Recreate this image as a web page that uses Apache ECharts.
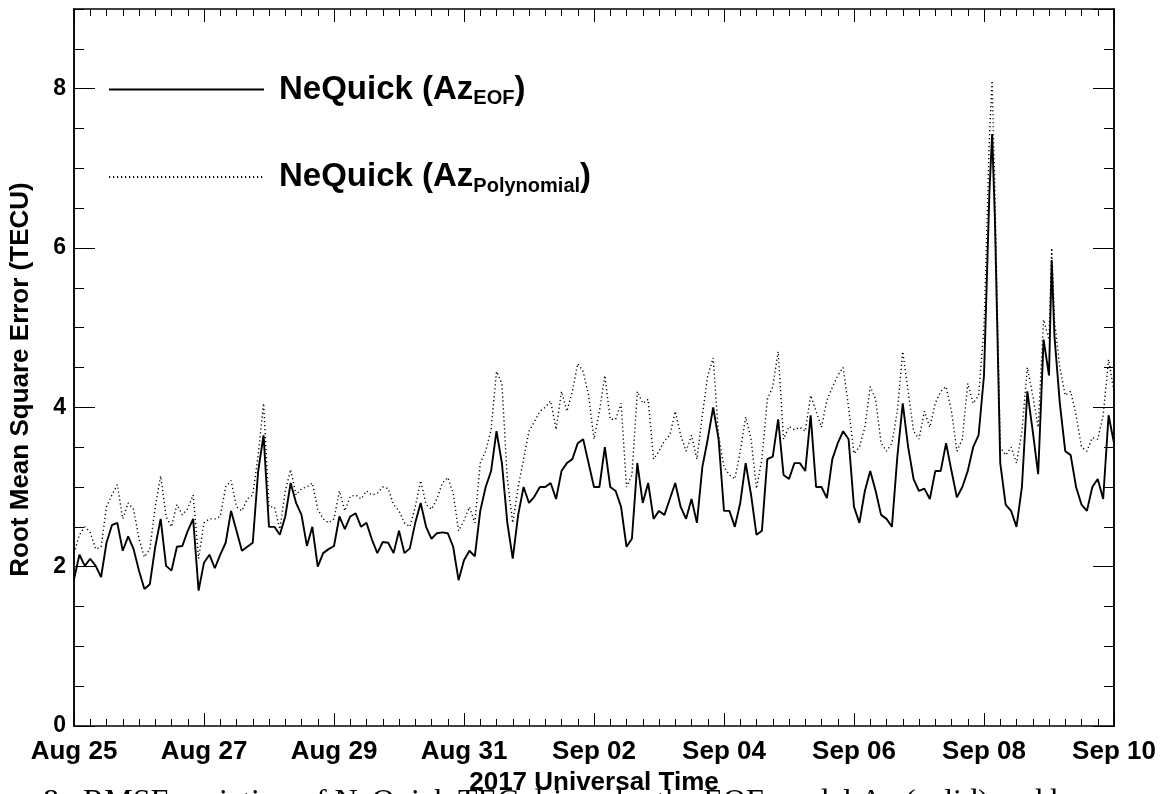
<!DOCTYPE html>
<html>
<head>
<meta charset="utf-8">
<script src="https://cdn.jsdelivr.net/npm/echarts@6/dist/echarts.min.js"></script>
<style>
  html, body { margin: 0; padding: 0; background: #fff; }
  #chart { width: 1164px; height: 794px; }
</style>
</head>
<body>
<div id="chart"></div>
<script>
// Hours since 2017-08-25 00:00 UT (2-hourly, with extra samples at the storm peaks)
const hours = [
  0, 2, 4, 6, 8, 10, 12, 14, 16, 18, 20, 22,
  24, 26, 28, 30, 32, 34, 36, 38, 40, 42, 44, 46,
  48, 50, 52, 54, 56, 58, 60, 62, 64, 66, 68, 70,
  72, 74, 76, 78, 80, 82, 84, 86, 88, 90, 92, 94,
  96, 98, 100, 102, 104, 106, 108, 110, 112, 114, 116, 118,
  120, 122, 124, 126, 128, 130, 132, 134, 136, 138, 140, 142,
  144, 146, 148, 150, 152, 154, 156, 158, 160, 162, 164, 166,
  168, 170, 172, 174, 176, 178, 180, 182, 184, 186, 188, 190,
  192, 194, 196, 198, 200, 202, 204, 206, 208, 210, 212, 214,
  216, 218, 220, 222, 224, 226, 228, 230, 232, 234, 236, 238,
  240, 242, 244, 246, 248, 250, 252, 254, 256, 258, 260, 262,
  264, 266, 268, 270, 272, 274, 276, 278, 280, 282, 284, 286,
  288, 290, 292, 294, 296, 298, 300, 302, 304, 306, 308, 310,
  312, 314, 316, 318, 320, 322, 324, 326, 328, 330, 332, 334,
  336, 338, 339, 340, 342, 344, 346, 348, 350, 352, 354, 356, 358,
  360, 361, 362, 364, 366, 368, 370, 372, 374, 376, 378, 380, 382, 384
];

// RMSE (TECU) of NeQuick driven by Az from the EOF model
const rmseEof = [
  1.84, 2.15, 2.01, 2.10, 2.01, 1.87, 2.30, 2.52, 2.55, 2.20, 2.38, 2.22,
  1.95, 1.72, 1.78, 2.25, 2.60, 2.01, 1.95, 2.25, 2.26, 2.45, 2.60, 1.70,
  2.05, 2.15, 1.98, 2.15, 2.30, 2.70, 2.45, 2.20, 2.25, 2.30, 3.20, 3.65,
  2.50, 2.50, 2.40, 2.63, 3.05, 2.80, 2.65, 2.26, 2.50, 2.00, 2.17, 2.22,
  2.26, 2.63, 2.47, 2.63, 2.67, 2.50, 2.55, 2.34, 2.17, 2.31, 2.30, 2.17,
  2.45, 2.17, 2.23, 2.55, 2.80, 2.50, 2.35, 2.42, 2.43, 2.42, 2.25, 1.83,
  2.08, 2.20, 2.13, 2.70, 3.00, 3.20, 3.70, 3.30, 2.55, 2.10, 2.65, 3.00,
  2.80, 2.88, 3.00, 3.00, 3.05, 2.85, 3.20, 3.30, 3.35, 3.55, 3.60, 3.30,
  3.00, 3.00, 3.50, 3.00, 2.95, 2.75, 2.25, 2.35, 3.30, 2.80, 3.05, 2.60,
  2.70, 2.65, 2.85, 3.05, 2.75, 2.60, 2.85, 2.55, 3.25, 3.60, 4.00, 3.60,
  2.70, 2.70, 2.50, 2.80, 3.30, 2.90, 2.40, 2.45, 3.35, 3.38, 3.85, 3.15,
  3.10, 3.30, 3.30, 3.20, 3.90, 3.00, 3.00, 2.86, 3.35, 3.55, 3.70, 3.60,
  2.75, 2.55, 2.95, 3.20, 2.95, 2.65, 2.60, 2.50, 3.38, 4.05, 3.50, 3.10,
  2.95, 2.98, 2.85, 3.20, 3.20, 3.55, 3.20, 2.87, 3.00, 3.20, 3.50, 3.65,
  4.40, 6.70, 7.43, 6.40, 3.30, 2.78, 2.70, 2.50, 3.00, 4.20, 3.70, 3.16, 4.85,
  4.40, 5.85, 4.90, 4.05, 3.45, 3.40, 3.00, 2.78, 2.70, 3.00, 3.10, 2.85, 3.90, 3.55
];

// RMSE (TECU) of NeQuick driven by Az from the polynomial model
const rmsePoly = [
  2.17, 2.40, 2.50, 2.43, 2.22, 2.25, 2.75, 2.90, 3.03, 2.60, 2.80, 2.72,
  2.35, 2.12, 2.22, 2.75, 3.14, 2.63, 2.50, 2.78, 2.65, 2.73, 2.90, 2.10,
  2.55, 2.60, 2.60, 2.63, 3.00, 3.08, 2.75, 2.70, 2.85, 2.90, 3.40, 4.05,
  2.75, 2.75, 2.47, 2.95, 3.22, 2.90, 2.98, 3.00, 3.05, 2.72, 2.60, 2.55,
  2.60, 2.95, 2.70, 2.88, 2.90, 2.85, 2.95, 2.90, 2.92, 3.00, 2.98, 2.78,
  2.70, 2.55, 2.50, 2.75, 3.08, 2.78, 2.72, 2.85, 3.05, 3.12, 2.92, 2.45,
  2.58, 2.75, 2.55, 3.30, 3.45, 3.72, 4.45, 4.30, 3.10, 2.55, 3.00, 3.35,
  3.70, 3.82, 3.95, 4.00, 4.08, 3.72, 4.20, 3.95, 4.20, 4.55, 4.45, 4.15,
  3.60, 3.95, 4.40, 3.85, 3.85, 4.05, 3.00, 3.15, 4.20, 4.05, 4.10, 3.35,
  3.45, 3.58, 3.65, 3.95, 3.65, 3.45, 3.65, 3.35, 3.90, 4.40, 4.62, 3.65,
  3.25, 3.15, 3.10, 3.45, 3.88, 3.60, 2.98, 3.35, 4.10, 4.26, 4.70, 3.60,
  3.76, 3.72, 3.75, 3.70, 4.15, 3.95, 3.75, 4.09, 4.25, 4.40, 4.50, 4.00,
  3.42, 3.50, 3.75, 4.26, 4.10, 3.55, 3.45, 3.55, 3.95, 4.70, 4.20, 3.70,
  3.60, 3.95, 3.75, 4.05, 4.20, 4.26, 3.95, 3.45, 3.60, 4.30, 4.05, 4.15,
  5.00, 7.40, 8.10, 6.75, 3.50, 3.40, 3.50, 3.30, 3.70, 4.50, 4.15, 3.75, 5.10,
  4.85, 6.00, 5.10, 4.50, 4.15, 4.20, 3.90, 3.50, 3.45, 3.62, 3.60, 3.90, 4.60, 4.20
];

// Date labels for the major ticks (every 48 h)
const dateLabels = ['Aug 25', 'Aug 27', 'Aug 29', 'Aug 31', 'Sep 02', 'Sep 04', 'Sep 06', 'Sep 08', 'Sep 10'];
const yTickLabels = ['0', '2', '4', '6', '8'];

const seriesNames = ['eof', 'poly'];
const legendRich = {
  eof: '{m|NeQuick (Az}{s|EOF}{m|)}',
  poly: '{m|NeQuick (Az}{s|Polynomial}{m|)}'
};
const caption = '8.  RMSE variation of NeQuick TEC driven by the EOF model Az (solid) and by';

const SANS = '"Liberation Sans", Arial, Helvetica, sans-serif';
const INK = '#000';

function xAxisCfg(pos, showLabels) {
  return {
    type: 'value', position: pos, min: 0, max: 384, interval: 48,
    axisLine: { show: true, onZero: false, lineStyle: { color: INK, width: 1.5 } },
    axisTick: { show: true, inside: true, length: 13, lineStyle: { color: INK, width: 1 } },
    minorTick: { show: true, splitNumber: 8, length: 7, lineStyle: { color: INK, width: 1 } },
    splitLine: { show: false }, minorSplitLine: { show: false },
    axisLabel: showLabels ? {
      show: true, margin: 13, color: INK, fontFamily: SANS, fontWeight: 'bold', fontSize: 26,
      formatter: v => dateLabels[Math.round(v / 48)] || ''
    } : { show: false }
  };
}

function yAxisCfg(pos, major, showLabels) {
  return {
    type: 'value', position: pos, min: 0, max: 9, interval: major ? 2 : 0.5,
    axisLine: { show: true, onZero: false, lineStyle: { color: INK, width: 1.5 } },
    axisTick: { show: true, inside: true, length: major ? 21 : 10, lineStyle: { color: INK, width: 1 } },
    splitLine: { show: false },
    axisLabel: showLabels ? {
      show: true, margin: 8, color: INK, fontFamily: SANS, fontWeight: 'bold', fontSize: 23,
      showMaxLabel: false,
      formatter: v => (v % 2 === 0 && v <= 8) ? yTickLabels[v / 2] : ''
    } : { show: false }
  };
}

const chart = echarts.init(document.getElementById('chart'), null, { renderer: 'canvas' });

const xBottom = xAxisCfg('bottom', true);
xBottom.name = '2017 Universal Time';
xBottom.nameLocation = 'middle';
xBottom.nameGap = 39;
xBottom.nameTextStyle = { color: INK, fontFamily: SANS, fontWeight: 'bold', fontSize: 26 };

const yLeft = yAxisCfg('left', true, true);
yLeft.name = 'Root Mean Square Error (TECU)';
yLeft.nameLocation = 'middle';
yLeft.nameRotate = 90;
yLeft.nameGap = 40;
yLeft.nameTextStyle = { color: INK, fontFamily: SANS, fontWeight: 'bold', fontSize: 26, padding: [0, 24, 0, 0] };

chart.setOption({
  animation: false,
  backgroundColor: '#fff',
  grid: { left: 74, right: 50, top: 9, bottom: 68, containLabel: false, outerBoundsMode: 'none' },
  xAxis: [xBottom, xAxisCfg('top', false)],
  yAxis: [yLeft, yAxisCfg('left', false, false), yAxisCfg('right', true, false), yAxisCfg('right', false, false)],
  legend: {
    data: seriesNames,
    orient: 'vertical', left: 108, top: 73, padding: 0,
    itemWidth: 155, itemHeight: 12, itemGap: 52,
    selectedMode: false,
    itemStyle: { opacity: 0 },
    formatter: name => legendRich[name],
    textStyle: {
      color: INK, padding: [0, 0, 0, 10],
      rich: {
        m: { fontFamily: SANS, fontWeight: 'bold', fontSize: 33, lineHeight: 38, color: INK },
        s: { fontFamily: SANS, fontWeight: 'bold', fontSize: 20, lineHeight: 16, verticalAlign: 'bottom', color: INK }
      }
    }
  },
  graphic: [{
    type: 'text', left: 43, top: 787, silent: true,
    style: { text: caption, font: '32px "Liberation Serif", "Times New Roman", serif', fill: INK }
  }],
  series: [
    {
      name: 'eof', type: 'line', xAxisIndex: 0, yAxisIndex: 0,
      data: hours.map((h, i) => [h, rmseEof[i]]),
      showSymbol: false, symbol: 'none',
      lineStyle: { color: INK, width: 1.9, type: 'solid' },
      itemStyle: { color: INK }
    },
    {
      name: 'poly', type: 'line', xAxisIndex: 0, yAxisIndex: 0,
      data: hours.map((h, i) => [h, rmsePoly[i]]),
      showSymbol: false, symbol: 'none',
      lineStyle: { color: INK, width: 1.4, type: [1.2, 2.8] },
      itemStyle: { color: INK }
    }
  ]
});
</script>
</body>
</html>
